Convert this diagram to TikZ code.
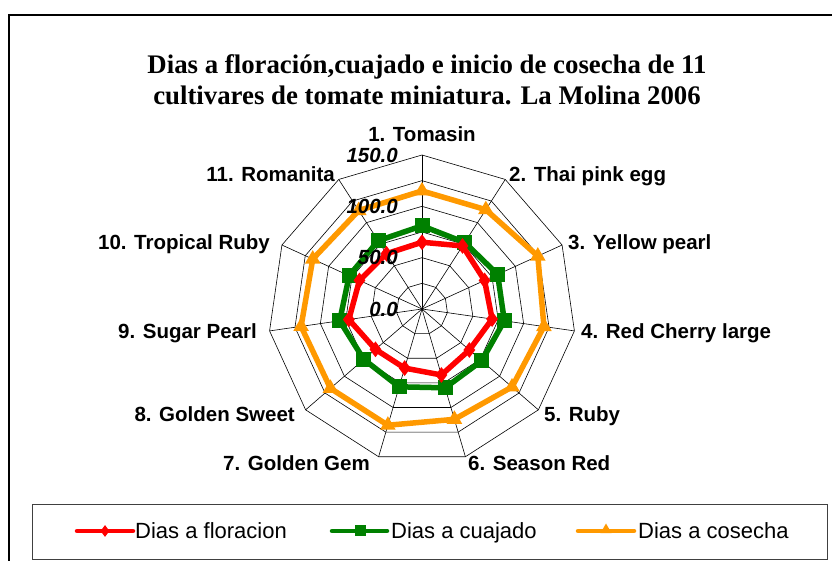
\documentclass[tikz,border=0pt]{standalone}
\usepackage{fontspec}
\setmainfont{Liberation Serif}
\setsansfont{Liberation Sans}
\usetikzlibrary{shapes.geometric}
\definecolor{sred}{RGB}{255,0,0}
\definecolor{sgreen}{RGB}{0,128,0}
\definecolor{sorange}{RGB}{255,153,0}
\tikzset{
  gridline/.style={draw=black, line width=0.6},
  catlabel/.style={font=\sffamily\bfseries\fontsize{20.5}{24}\selectfont, inner sep=0},
  vallabel/.style={font=\sffamily\bfseries\itshape\fontsize{20.5}{24}\selectfont, inner sep=0, anchor=base east},
  serie/.style={line width=5.5, line join=round},
  redmark/.style={diamond, fill=sred, inner sep=0, minimum width=12, minimum height=16},
  greenmark/.style={rectangle, fill=sgreen, inner sep=0, minimum size=15},
  orangemark/.style={regular polygon, regular polygon sides=3, fill=sorange, inner sep=0, minimum size=18},
  legtext/.style={font=\sffamily\fontsize{22}{24}\selectfont, inner sep=0, anchor=base west},
}
\begin{document}
\begin{tikzpicture}[x=1pt,y=1pt]
\useasboundingbox (0,0) rectangle (832,561);
% outer frame (left and top only visible)
\draw[line width=1.6] (9,0) -- (9,546) -- (832,546);
% title
\node[font=\bfseries\fontsize{26.8}{31}\selectfont, align=center] (title) at (427,481.5)
  {Dias a floración,cuajado e inicio de cosecha de 11\\cultivares de tomate miniatura. La Molina 2006};
\begin{scope}[shift={(422,252)}]
  \def\u{1.02667}
  % rings
  \foreach \r in {25,50,...,150}{
    \draw[gridline] (90:\r*\u) \foreach \k in {1,...,10}{ -- (90-\k*360/11:\r*\u)} -- cycle;
  }
  % spokes
  \coordinate (c) at (0,0);
  \foreach \k in {0,...,10}{
    \coordinate (s\k) at (90-\k*360/11:150*\u);
    \draw[gridline] (c) -- (s\k);
  }
  % series: cosecha
  \draw[serie, sorange] (90:115*\u)
    \foreach \v [count=\k from 1] in {115,124,120,116,112,118,118,119,117,114}{ -- (90-\k*360/11:\v*\u)} -- cycle;
  \foreach \v [count=\k from 0] in {115,115,124,120,116,112,118,118,119,117,114}{
    \node[orangemark] (o\k) at (90-\k*360/11:\v*\u) {};
  }
  % series: cuajado
  \draw[serie, sgreen] (90:81*\u)
    \foreach \v [count=\k from 1] in {77,81,81,77,80,79,75,81,78,79}{ -- (90-\k*360/11:\v*\u)} -- cycle;
  \foreach \v [count=\k from 0] in {81,77,81,81,77,80,79,75,81,78,79}{
    \node[greenmark] (g\k) at (90-\k*360/11:\v*\u) {};
  }
  % series: floracion
  \draw[serie, sred] (90:65*\u)
    \foreach \v [count=\k from 1] in {73,67,69,61,67,60,60,72,67,64}{ -- (90-\k*360/11:\v*\u)} -- cycle;
  \foreach \v [count=\k from 0] in {65,73,67,69,61,67,60,60,72,67,64}{
    \node[redmark] (r\k) at (90-\k*360/11:\v*\u) {};
  }
  % value labels (on top)
  \foreach \v in {0,50,100,150}{
    \node[vallabel] (v\v) at (-24,\v*\u-7.3) {\v.0};
  }
\end{scope}
% category labels (baselines)
\node[catlabel, anchor=base] (l1) at (422,419.7) {1. Tomasin};
\node[catlabel, anchor=base west] (l2) at (509,379.7) {2. Thai pink egg};
\node[catlabel, anchor=base west] (l3) at (568,311.7) {3. Yellow pearl};
\node[catlabel, anchor=base west] (l4) at (581,222.7) {4. Red Cherry large};
\node[catlabel, anchor=base west] (l5) at (544,139.7) {5. Ruby};
\node[catlabel, anchor=base west] (l6) at (468,90.7) {6. Season Red};
\node[catlabel, anchor=base east] (l7) at (370,90.7) {7. Golden Gem};
\node[catlabel, anchor=base east] (l8) at (295,139.7) {8. Golden Sweet};
\node[catlabel, anchor=base east] (l9) at (257,222.7) {9. Sugar Pearl};
\node[catlabel, anchor=base east] (l10) at (270,311.7) {10. Tropical Ruby};
\node[catlabel, anchor=base east] (l11) at (335,379.7) {11. Romanita};
% legend
\draw[draw=black!75, line width=0.9] (32,2) rectangle (827,57);
\coordinate (la1) at (77,30); \coordinate (lb1) at (133,30);
\coordinate (la2) at (332,30); \coordinate (lb2) at (387,30);
\coordinate (la3) at (578,30); \coordinate (lb3) at (634,30);
\draw[sred, line width=4.5, line cap=round] (la1) -- (lb1);
\node[redmark, minimum width=9, minimum height=12] (lm1) at (105,30) {};
\node[legtext] (lt1) at (135,22) {Dias a floracion};
\draw[sgreen, line width=4.5, line cap=round] (la2) -- (lb2);
\node[greenmark, minimum size=11] (lm2) at (360,30) {};
\node[legtext] (lt2) at (391,22) {Dias a cuajado};
\draw[sorange, line width=4.5, line cap=round] (la3) -- (lb3);
\node[orangemark, minimum size=13] (lm3) at (606,31) {};
\node[legtext] (lt3) at (638,22) {Dias a cosecha};
\end{tikzpicture}
\end{document}
